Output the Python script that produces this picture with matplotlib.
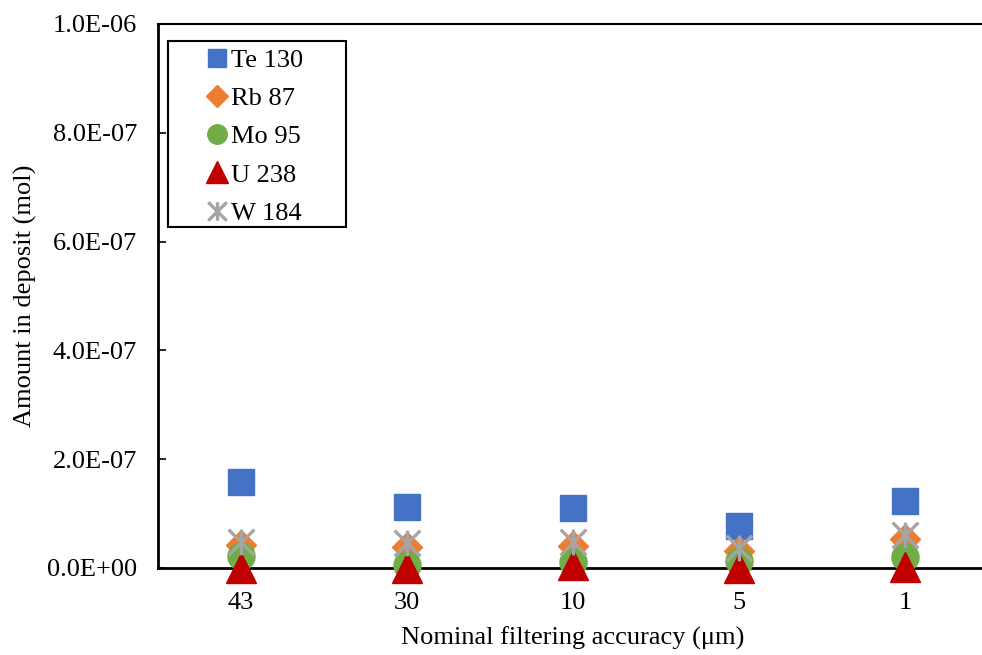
import matplotlib
matplotlib.use("Agg")
import matplotlib.pyplot as plt
from matplotlib.path import Path
from matplotlib.patches import Rectangle
from matplotlib.ticker import FuncFormatter
import numpy as np

categories = ["43", "30", "10", "5", "1"]
te130 = [1.58e-7, 1.12e-7, 1.10e-7, 0.77e-7, 1.23e-7]
rb87 = [0.42e-7, 0.39e-7, 0.40e-7, 0.31e-7, 0.53e-7]
mo95 = [0.22e-7, 0.06e-7, 0.11e-7, 0.13e-7, 0.20e-7]
u238 = [0.00e-7, 0.00e-7, 0.05e-7, 0.00e-7, 0.02e-7]
w184 = [0.48e-7, 0.46e-7, 0.48e-7, 0.37e-7, 0.60e-7]
yticks = [0, 2e-7, 4e-7, 6e-7, 8e-7, 1e-6]

plt.rcParams['font.family'] = ['Liberation Serif', 'DejaVu Serif']
plt.rcParams['font.size'] = 19

fig = plt.figure(figsize=(9.82, 6.55), dpi=100)
W, H = 982, 655
left, right, top, bottom = 158, 988, 24, 568
ax = fig.add_axes([left / W, 1 - bottom / H, (right - left) / W, (bottom - top) / H])

x = np.arange(len(categories))

star = Path([(-1, -1), (1, 1), (-1, 1), (1, -1), (0, -1), (0, 1)],
            [Path.MOVETO, Path.LINETO, Path.MOVETO, Path.LINETO, Path.MOVETO, Path.LINETO])

ax.plot(x, te130, ls='none', marker='s', ms=18.5, color='#4472C4', label='Te 130', clip_on=False, zorder=3)
ax.plot(x, rb87, ls='none', marker='D', ms=15.5, color='#ED7D31', label='Rb 87', clip_on=False, zorder=4)
ax.plot(x, mo95, ls='none', marker='o', ms=19.5, color='#70AD47', label='Mo 95', clip_on=False, zorder=5)
ax.plot(x, u238, ls='none', marker='^', ms=22, color='#C00000', label='U 238', clip_on=False, zorder=6)
ax.plot(x, w184, ls='none', marker=star, ms=18.5, mew=2.4, color='#A5A5A5', mfc='none',
        label='W 184', clip_on=False, zorder=7)

ax.set_xlim(-0.5, len(categories) - 0.5)
ax.set_ylim(0, 1e-6)
ax.set_xticks(x)
ax.set_xticklabels(categories)
ax.set_yticks(yticks)
ax.yaxis.set_major_formatter(FuncFormatter(lambda v, p: ("%.1E" % v)))
ax.tick_params(axis='x', length=0, pad=17)
ax.tick_params(axis='y', direction='in', length=6, width=1.2, pad=15)

for s in ['left', 'bottom']:
    ax.spines[s].set_linewidth(2.0)
ax.spines['top'].set_linewidth(1.5)
ax.spines['right'].set_visible(False)

ax.set_xlabel('Nominal filtering accuracy (\u03bcm)', labelpad=9)
ax.set_ylabel('Amount in deposit (mol)', labelpad=7)

# legend: handle centre at px 217, text starting at px 231, box 168-346 x 41-227
fs = 19 * 100 / 72.0
bp = 5.5 / fs
hl = 2 * (217 - 168 - 5.5) / fs
htp = (231 - (168 + 5.5 + hl * fs)) / fs
leg = ax.legend(loc='upper left', bbox_to_anchor=(168 / W, 1 - 43 / H), bbox_transform=fig.transFigure,
                borderaxespad=0, frameon=False, handletextpad=htp,
                handlelength=hl, borderpad=bp, labelspacing=0.56, markerscale=0.72)
leg.set_zorder(20)
box = Rectangle((168 / W, 1 - 227 / H), (346 - 168) / W, (227 - 41) / H,
                transform=fig.transFigure, fill=True, facecolor='white',
                edgecolor='black', linewidth=1.5, zorder=15, clip_on=False)
ax.add_patch(box)

fig.savefig('out.png', dpi=100)
